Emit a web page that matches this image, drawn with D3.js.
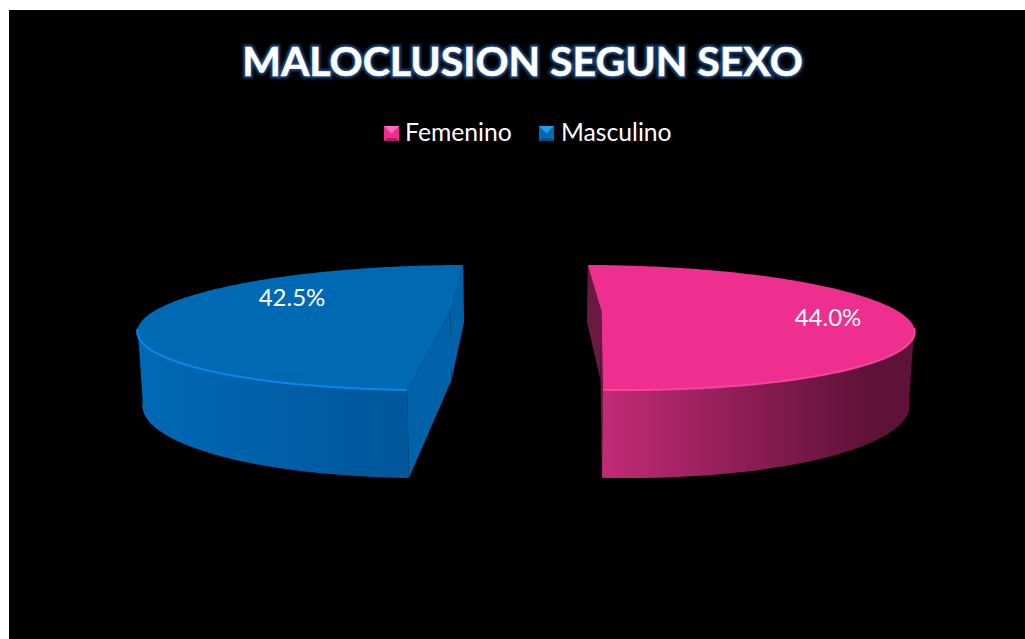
<!DOCTYPE html>
<html>
<head>
<meta charset="utf-8">
<script src="https://cdn.jsdelivr.net/npm/d3@7"></script>
<style>
  html, body { margin: 0; padding: 0; background: #fff; }
  svg { display: block; }
  text { font-family: Lato, "Open Sans", sans-serif; fill: #fff; }
</style>
</head>
<body>
<div id="my_dataviz"></div>
<script>
// chart values
var categories = ["Femenino", "Masculino"];
var values = [44.0, 42.5];
var chartTitle = "MALOCLUSION SEGUN SEXO";

// colours per slice
var topColors = ["#ee2f8f", "#0069b3"];
var rimColors = ["#f6459c", "#0d86ea"];
var innerColors = ["#691a43", "#0062a9"];
var wallStops = [["#c22a77", "#5f1238"], ["#0069b6", "#00569a"]];
var legendLight = ["#ff6cc0", "#1ea0ee"];
var legendDark = ["#a81f62", "#004f8c"];

var width = 1025, height = 639;

var svg = d3.select("#my_dataviz")
  .append("svg")
    .attr("width", width)
    .attr("height", height);

svg.append("rect")
  .attr("x", 9).attr("y", 10)
  .attr("width", width - 9).attr("height", height - 10)
  .attr("fill", "#000");

var defs = svg.append("defs");

// title glow
var glow = defs.append("filter").attr("id", "glow")
  .attr("x", "-5%").attr("y", "-20%").attr("width", "110%").attr("height", "140%");
glow.append("feGaussianBlur").attr("stdDeviation", 1);
var soft = defs.append("filter").attr("id", "soft")
  .attr("x", "-5%").attr("y", "-20%").attr("width", "110%").attr("height", "140%");
soft.append("feGaussianBlur").attr("stdDeviation", 0.7);

// perspective of the flat pie, top plane and bottom plane
var toRad = Math.PI / 180;
var pie = d3.pie().sort(null).startAngle(0.4 * toRad).endAngle(360.4 * toRad);
var arcs = pie(values);
var turn = [0, -1.05 * toRad];   // the blue slice sits a little further round

var cx = 526, persp = 0.256, radiusX = 297, explode = 75.5;
var planes = {
  top: {cy: 311.5, b: 58.4, sx: 1},
  bottom: {cy: 380, b: 73, sx: 0.987}
};

function project(px, py, plane) {
  // px in pixels east of centre, py in radius units north of centre
  var w = 1 + persp * py;
  return [cx + plane.sx * px / w, plane.cy - plane.b * py / w];
}

function offset(d) {
  var mid = (d.startAngle + d.endAngle) / 2;
  return Math.sin(mid) > 0 ? explode : -explode;
}

function rimPoint(d, angle, plane) {
  return project(offset(d) + radiusX * Math.sin(angle), Math.cos(angle), plane);
}

function apex(d, plane) {
  return project(offset(d), 0, plane);
}

var line = d3.line();

var slices = svg.selectAll("g.slice")
  .data(arcs)
  .enter()
  .append("g")
    .attr("class", "slice");

slices.each(function (d, i) {
  var g = d3.select(this);
  var a0 = d.startAngle + turn[i], a1 = d.endAngle + turn[i];
  var n = 180;
  var as = d3.range(n + 1).map(function (k) { return a0 + (a1 - a0) * k / n; });
  var topRim = as.map(function (a) { return rimPoint(d, a, planes.top); });

  // only the front part of the rim has a visible wall
  var front = as.filter(function (a) { return Math.cos(a) < -persp; });
  var frontTop = front.map(function (a) { return rimPoint(d, a, planes.top); });
  var frontBot = front.map(function (a) { return rimPoint(d, a, planes.bottom); });

  var xs = frontTop.map(function (p) { return p[0]; });
  var grad = defs.append("linearGradient")
    .attr("id", "wall" + i)
    .attr("gradientUnits", "userSpaceOnUse")
    .attr("x1", d3.min(xs))
    .attr("x2", d3.max(xs))
    .attr("y1", 0).attr("y2", 0);
  grad.append("stop").attr("offset", 0).attr("stop-color", wallStops[i][0]);
  grad.append("stop").attr("offset", i === 0 ? 0.85 : 1).attr("stop-color", wallStops[i][1]);

  // the two cut faces
  [a0, a1].forEach(function (a) {
    g.append("path")
      .attr("d", line([
        rimPoint(d, a, planes.top), apex(d, planes.top),
        apex(d, planes.bottom), rimPoint(d, a, planes.bottom)
      ]) + "Z")
      .attr("fill", innerColors[i]);
  });

  // outer wall
  g.append("path")
    .attr("d", line(frontTop.concat(frontBot.slice().reverse())) + "Z")
    .attr("fill", "url(#wall" + i + ")");

  // top face
  g.append("path")
    .attr("d", line(topRim.concat([apex(d, planes.top)])) + "Z")
    .attr("fill", topColors[i]);

  // light edge along the front of the top face
  g.append("path")
    .attr("d", line(frontTop))
    .attr("fill", "none")
    .attr("stroke", rimColors[i])
    .attr("stroke-width", 2)
    .attr("filter", "url(#soft)");
});

// data labels
var labelPos = [[828, 326], [292, 306]];
svg.selectAll("text.label")
  .data(values)
  .enter()
  .append("text")
    .attr("class", "label")
    .attr("x", function (d, i) { return labelPos[i][0]; })
    .attr("y", function (d, i) { return labelPos[i][1]; })
    .attr("text-anchor", "middle")
    .attr("font-size", 24)
    .text(function (d) { return d3.format(".1f")(d) + "%"; });

// title, dark blue halo under white text
svg.append("text")
  .attr("x", 522.5).attr("y", 76)
  .attr("text-anchor", "middle")
  .attr("font-size", 41).attr("font-weight", 700)
  .attr("filter", "url(#glow)")
  .style("fill", "#1a4375")
  .style("stroke", "#1a4375").style("stroke-width", 5)
  .text(chartTitle);
svg.append("text")
  .attr("x", 522.5).attr("y", 76)
  .attr("text-anchor", "middle")
  .attr("font-size", 41).attr("font-weight", 700)
  .style("stroke", "#fff").style("stroke-width", 0.5)
  .text(chartTitle);

// legend
var swatchX = [384, 539], textX = [405, 561], sw = 15, swY = 126;
var legend = svg.selectAll("g.legend")
  .data(categories)
  .enter()
  .append("g")
    .attr("class", "legend");

legend.each(function (d, i) {
  var g = d3.select(this), x0 = swatchX[i], y0 = swY;
  g.append("rect").attr("x", x0).attr("y", y0).attr("width", sw).attr("height", sw)
    .attr("fill", topColors[i]);
  g.append("path")
    .attr("d", line([[x0, y0], [x0 + sw, y0], [x0 + sw / 2, y0 + sw / 2]]) + "Z")
    .attr("fill", legendLight[i]);
  g.append("path")
    .attr("d", line([[x0, y0 + sw], [x0 + sw, y0 + sw], [x0 + sw - 3, y0 + sw - 3], [x0 + 3, y0 + sw - 3]]) + "Z")
    .attr("fill", legendDark[i]);
  g.append("text")
    .attr("x", textX[i]).attr("y", 141)
    .attr("font-size", 24.7)
    .text(d);
});
</script>
</body>
</html>
